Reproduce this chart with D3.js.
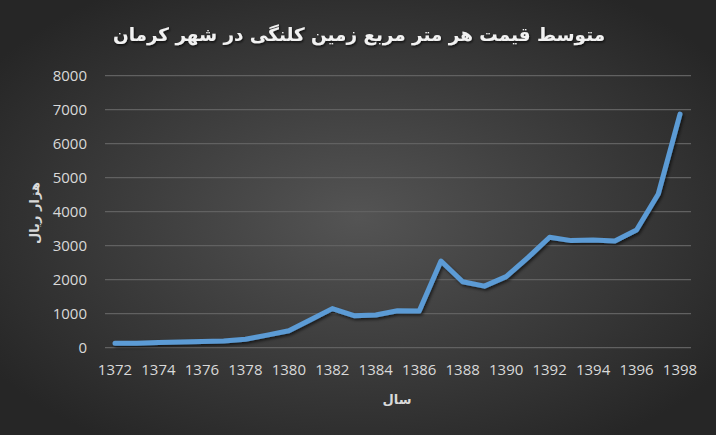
<!DOCTYPE html>
<html><head><meta charset="utf-8">
<script src="https://cdn.jsdelivr.net/npm/d3@7"></script>
<style>html,body{margin:0;padding:0;background:#2a2a2a;}svg{display:block;}</style>
</head><body>
<script>
const years = [1372,1373,1374,1375,1376,1377,1378,1379,1380,1381,1382,1383,1384,1385,1386,1387,1388,1389,1390,1391,1392,1393,1394,1395,1396,1397,1398];
const prices = [130,130,150,170,180,200,250,370,500,820,1150,940,960,1085,1080,2550,1940,1810,2090,2650,3250,3150,3170,3140,3460,4520,6870];
const yTicks = [0,1000,2000,3000,4000,5000,6000,7000,8000];
const xTicks = [1372,1374,1376,1378,1380,1382,1384,1386,1388,1390,1392,1394,1396,1398];
const title = "متوسط قیمت هر متر مربع زمین کلنگی در شهر کرمان";
const yTitle = "هزار ریال";
const xTitle = "سال";

const W = 716, H = 435;
const svg = d3.select("body").append("svg").attr("width", W).attr("height", H);
const defs = svg.append("defs");
const rg = defs.append("radialGradient").attr("id","bg").attr("cx","50%").attr("cy","50%").attr("r","62%");
rg.append("stop").attr("offset","0%").attr("stop-color","#545454");
rg.append("stop").attr("offset","100%").attr("stop-color","#262626");
const sh = defs.append("filter").attr("id","sh").attr("x","-10%").attr("y","-10%").attr("width","120%").attr("height","140%");
sh.append("feDropShadow").attr("dx",1.5).attr("dy",2).attr("stdDeviation",1.5).attr("flood-color","#000").attr("flood-opacity",0.6);
const tsh = defs.append("filter").attr("id","tsh").attr("x","-5%").attr("y","-20%").attr("width","110%").attr("height","160%");
tsh.append("feDropShadow").attr("dx",1).attr("dy",1.5).attr("stdDeviation",1).attr("flood-color","#000").attr("flood-opacity",0.7);

svg.append("rect").attr("width",W).attr("height",H).attr("fill","url(#bg)");

const x = d3.scaleLinear().domain([1372,1398]).range([115,680]);
const y = d3.scaleLinear().domain([0,8000]).range([347.7,75.7]);
const gridL = 105, gridR = 691;

svg.append("g").selectAll("line").data(yTicks).join("line")
  .attr("x1",gridL).attr("x2",gridR)
  .attr("y1",d=>y(d)).attr("y2",d=>y(d))
  .attr("stroke","#616161").attr("stroke-width",1.3);

const font = "'Open Sans', 'DejaVu Sans', sans-serif";
svg.append("g").selectAll("text").data(yTicks).join("text")
  .attr("x",87).attr("y",d=>y(d)).attr("dy","0.35em")
  .attr("text-anchor","end").attr("fill","#d9d9d9")
  .style("font-family",font).style("font-size","15px")
  .text(d=>d);

svg.append("g").selectAll("text").data(xTicks).join("text")
  .attr("x",d=>x(d)).attr("y",370).attr("dy","0.35em")
  .attr("text-anchor","middle").attr("fill","#d9d9d9")
  .style("font-family",font).style("font-size","15px")
  .text(d=>d);

const line = d3.line().x((d,i)=>x(years[i])).y(d=>y(d));
svg.append("path").datum(prices).attr("d",line)
  .attr("fill","none").attr("stroke","#5b9bd5").attr("stroke-width",5)
  .attr("stroke-linejoin","round").attr("stroke-linecap","round")
  .attr("filter","url(#sh)");

const t = svg.append("text").attr("x",359).attr("y",35).attr("dy","0.35em")
  .attr("text-anchor","middle").attr("fill","#f2f2f2")
  .attr("direction","rtl")
  .style("font-family","'DejaVu Sans', sans-serif").style("font-weight","bold").style("font-size","20px")
  .attr("filter","url(#tsh)")
  .text(title);
const tw = t.node().getComputedTextLength();
t.style("font-size", (20*492/tw).toFixed(2)+"px");

svg.append("text").attr("transform","translate(34,213) rotate(-90)").attr("dy","0.35em")
  .attr("text-anchor","middle").attr("fill","#d9d9d9").attr("direction","rtl")
  .style("font-family","'DejaVu Sans', sans-serif").style("font-weight","bold").style("font-size","13px")
  .text(yTitle);

svg.append("text").attr("x",397).attr("y",399).attr("dy","0.35em")
  .attr("text-anchor","middle").attr("fill","#d9d9d9").attr("direction","rtl")
  .style("font-family","'DejaVu Sans', sans-serif").style("font-weight","bold").style("font-size","13px")
  .text(xTitle);
</script>
</body></html>
